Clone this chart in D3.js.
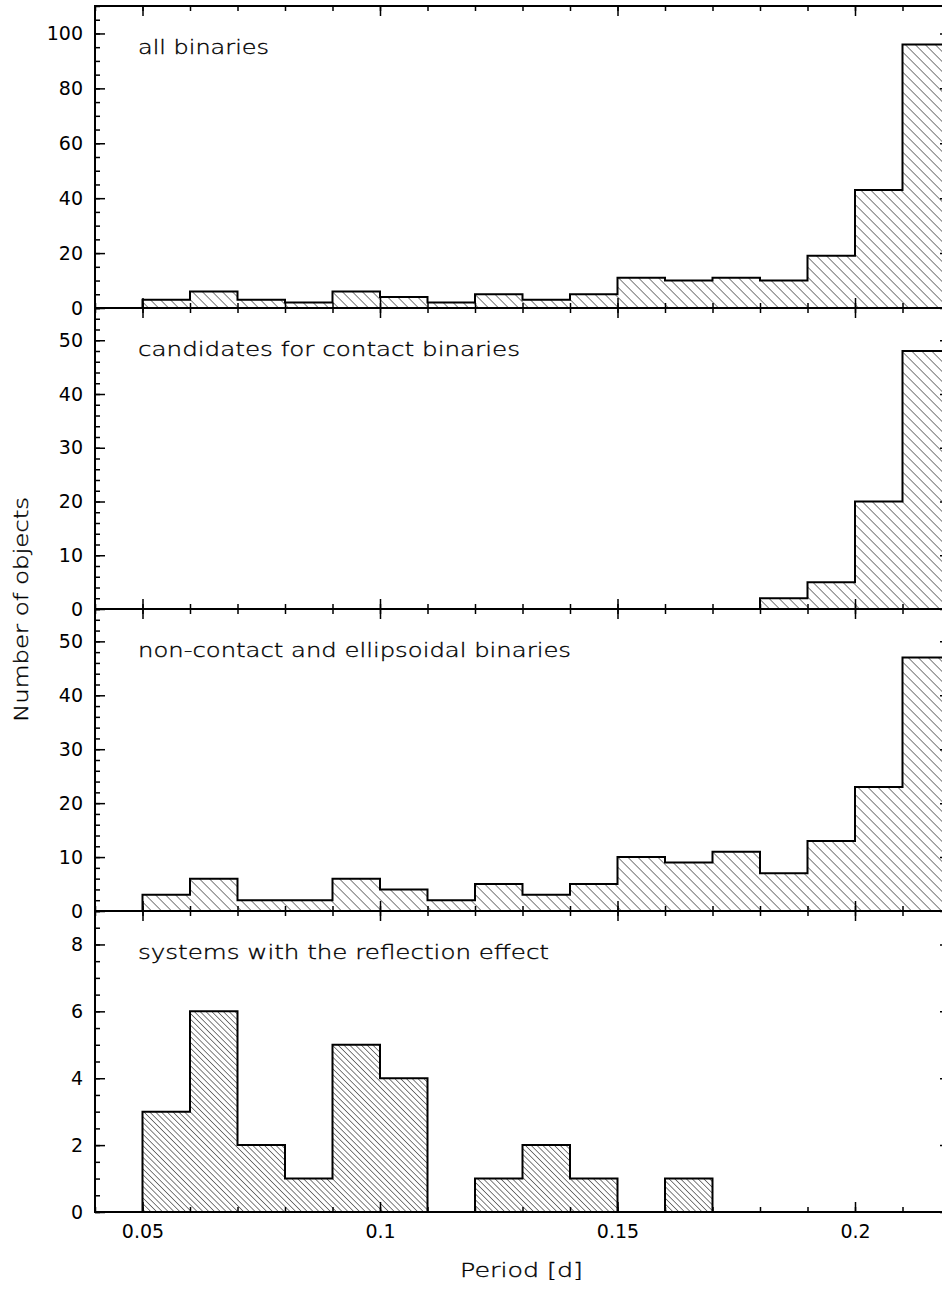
<!DOCTYPE html>
<html>
<head>
<meta charset="utf-8">
<script src="https://cdn.jsdelivr.net/npm/d3@7"></script>
<style>
  html, body { margin: 0; padding: 0; background: #fff; }
  svg { display: block; }
</style>
</head>
<body>
<svg id="chart" width="942" height="1292"></svg>
<script>
// ---- Data ----
const binStarts = [0.05,0.06,0.07,0.08,0.09,0.10,0.11,0.12,0.13,0.14,0.15,0.16,0.17,0.18,0.19,0.20,0.21];
const binWidth = 0.01;
const allBinaries       = [3,6,3,2,6,4,2,5,3,5,11,10,11,10,19,43,96];
const contactCandidates = [0,0,0,0,0,0,0,0,0,0,0,0,0,2,5,20,48];
const nonContact        = [3,6,2,2,6,4,2,5,3,5,10,9,11,7,13,23,47];
const reflection        = [3,6,2,1,5,4,0,1,2,1,0,1,0,0,0,0,0];

const panelLabels = ["all binaries", "candidates for contact binaries",
                     "non-contact and ellipsoidal binaries", "systems with the reflection effect"];
const panelSeries = [allBinaries, contactCandidates, nonContact, reflection];
const yMax = [110, 56, 56, 9];
const yMajorTicks = [[0,20,40,60,80,100],[0,10,20,30,40,50],[0,10,20,30,40,50],[0,2,4,6,8]];
const yMinorStep = [5, 2, 2, 0.5];
const xMajorTicks = [0.05, 0.1, 0.15, 0.2];
const xTickLabels = ["0.05", "0.1", "0.15", "0.2"];
const xLabel = "Period [d]";
const yLabel = "Number of objects";

// ---- Layout ----
const svg = d3.select("#chart");
const left = 95, right = 950;
const tops = [6, 308, 609, 911];
const bottoms = [308, 609, 911, 1212];
const labelWidths = [131, 382, 433, 411];
const hatchHoriz = [10, 10, 10, 5.8];

const x = d3.scaleLinear().domain([0.04, 0.22]).range([left, right]);
const xMinor = d3.range(4, 23).map(d => +(d / 100).toFixed(2));

const defs = svg.append("defs");
hatchHoriz.forEach((h, i) => {
  const d = h / Math.SQRT2;
  const p = defs.append("pattern")
    .attr("id", "hatch" + i)
    .attr("patternUnits", "userSpaceOnUse")
    .attr("width", d).attr("height", d)
    .attr("patternTransform", "rotate(-45)");
  p.append("line").attr("x1", 0).attr("y1", -1).attr("x2", 0).attr("y2", d + 1)
    .attr("stroke", "#000").attr("stroke-width", 1);
});

const tickFont = "'DejaVu Sans', sans-serif";
const labelText = sel => sel
  .attr("font-family", "'DejaVu Sans', sans-serif").attr("font-weight", 200)
  .attr("font-size", 20).attr("fill", "#000")
  .attr("stroke", "#000").attr("stroke-width", 0.35)
  .attr("lengthAdjust", "spacingAndGlyphs");

panelSeries.forEach((series, i) => {
  const y = d3.scaleLinear().domain([0, yMax[i]]).range([bottoms[i], tops[i]]);
  const g = svg.append("g");

  // histogram
  const pts = [[binStarts[0], 0]];
  series.forEach((v, k) => {
    pts.push([binStarts[k], v]);
    pts.push([binStarts[k] + binWidth, v]);
  });
  pts.push([binStarts[binStarts.length - 1] + binWidth, 0]);
  const line = d3.line().x(d => x(d[0])).y(d => y(d[1]));
  g.append("path").attr("d", line(pts) + "Z")
    .attr("fill", `url(#hatch${i})`).attr("stroke", "none");
  g.append("path").attr("d", line(pts))
    .attr("fill", "none").attr("stroke", "#000").attr("stroke-width", 2)
    .attr("stroke-linejoin", "miter");

  const yMinor = d3.range(0, yMax[i] + 1e-9, yMinorStep[i]);

  const styleAxis = sel => {
    sel.select(".domain").remove();
    sel.selectAll(".tick line").attr("stroke", "#000").attr("stroke-width", 1.5);
  };

  // bottom axis
  const bot = g.append("g").attr("transform", `translate(0,${bottoms[i]})`);
  bot.append("g").call(d3.axisBottom(x).tickValues(xMinor).tickSize(-5).tickFormat("")).call(styleAxis);
  const bm = bot.append("g").call(d3.axisBottom(x).tickValues(xMajorTicks).tickSize(-10).tickPadding(13)
      .tickFormat((d, k) => i === 3 ? xTickLabels[k] : "")).call(styleAxis);
  bm.selectAll("text").attr("font-family", tickFont).attr("font-size", 19).attr("fill", "#000");

  // top axis
  const top = g.append("g").attr("transform", `translate(0,${tops[i]})`);
  top.append("g").call(d3.axisTop(x).tickValues(xMinor).tickSize(-5).tickFormat("")).call(styleAxis);
  top.append("g").call(d3.axisTop(x).tickValues(xMajorTicks).tickSize(-10).tickFormat("")).call(styleAxis);

  // left axis
  const lft = g.append("g").attr("transform", `translate(${left},0)`);
  lft.append("g").call(d3.axisLeft(y).tickValues(yMinor).tickSize(-5).tickFormat("")).call(styleAxis);
  const lm = lft.append("g").call(d3.axisLeft(y).tickValues(yMajorTicks[i]).tickSize(-10).tickPadding(12)
      .tickFormat(d3.format("d"))).call(styleAxis);
  lm.selectAll("text").attr("font-family", tickFont).attr("font-size", 19).attr("fill", "#000");

  // right axis
  const rgt = g.append("g").attr("transform", `translate(${right},0)`);
  rgt.append("g").call(d3.axisRight(y).tickValues(yMinor).tickSize(-5).tickFormat("")).call(styleAxis);
  rgt.append("g").call(d3.axisRight(y).tickValues(yMajorTicks[i]).tickSize(-10).tickFormat("")).call(styleAxis);

  // frame
  g.append("rect").attr("x", left).attr("y", tops[i])
    .attr("width", right - left).attr("height", bottoms[i] - tops[i])
    .attr("fill", "none").attr("stroke", "#000").attr("stroke-width", 2);

  // panel label
  g.append("text").attr("x", 138).attr("y", tops[i] + 48)
    .call(labelText)
    .attr("textLength", labelWidths[i])
    .text(panelLabels[i]);
});

// axis titles
svg.append("text").attr("x", 460).attr("y", 1277)
  .call(labelText)
  .attr("textLength", 123)
  .text(xLabel);

svg.append("text")
  .attr("transform", "translate(28,722) rotate(-90)")
  .call(labelText)
  .attr("textLength", 225)
  .text(yLabel);
</script>
</body>
</html>
